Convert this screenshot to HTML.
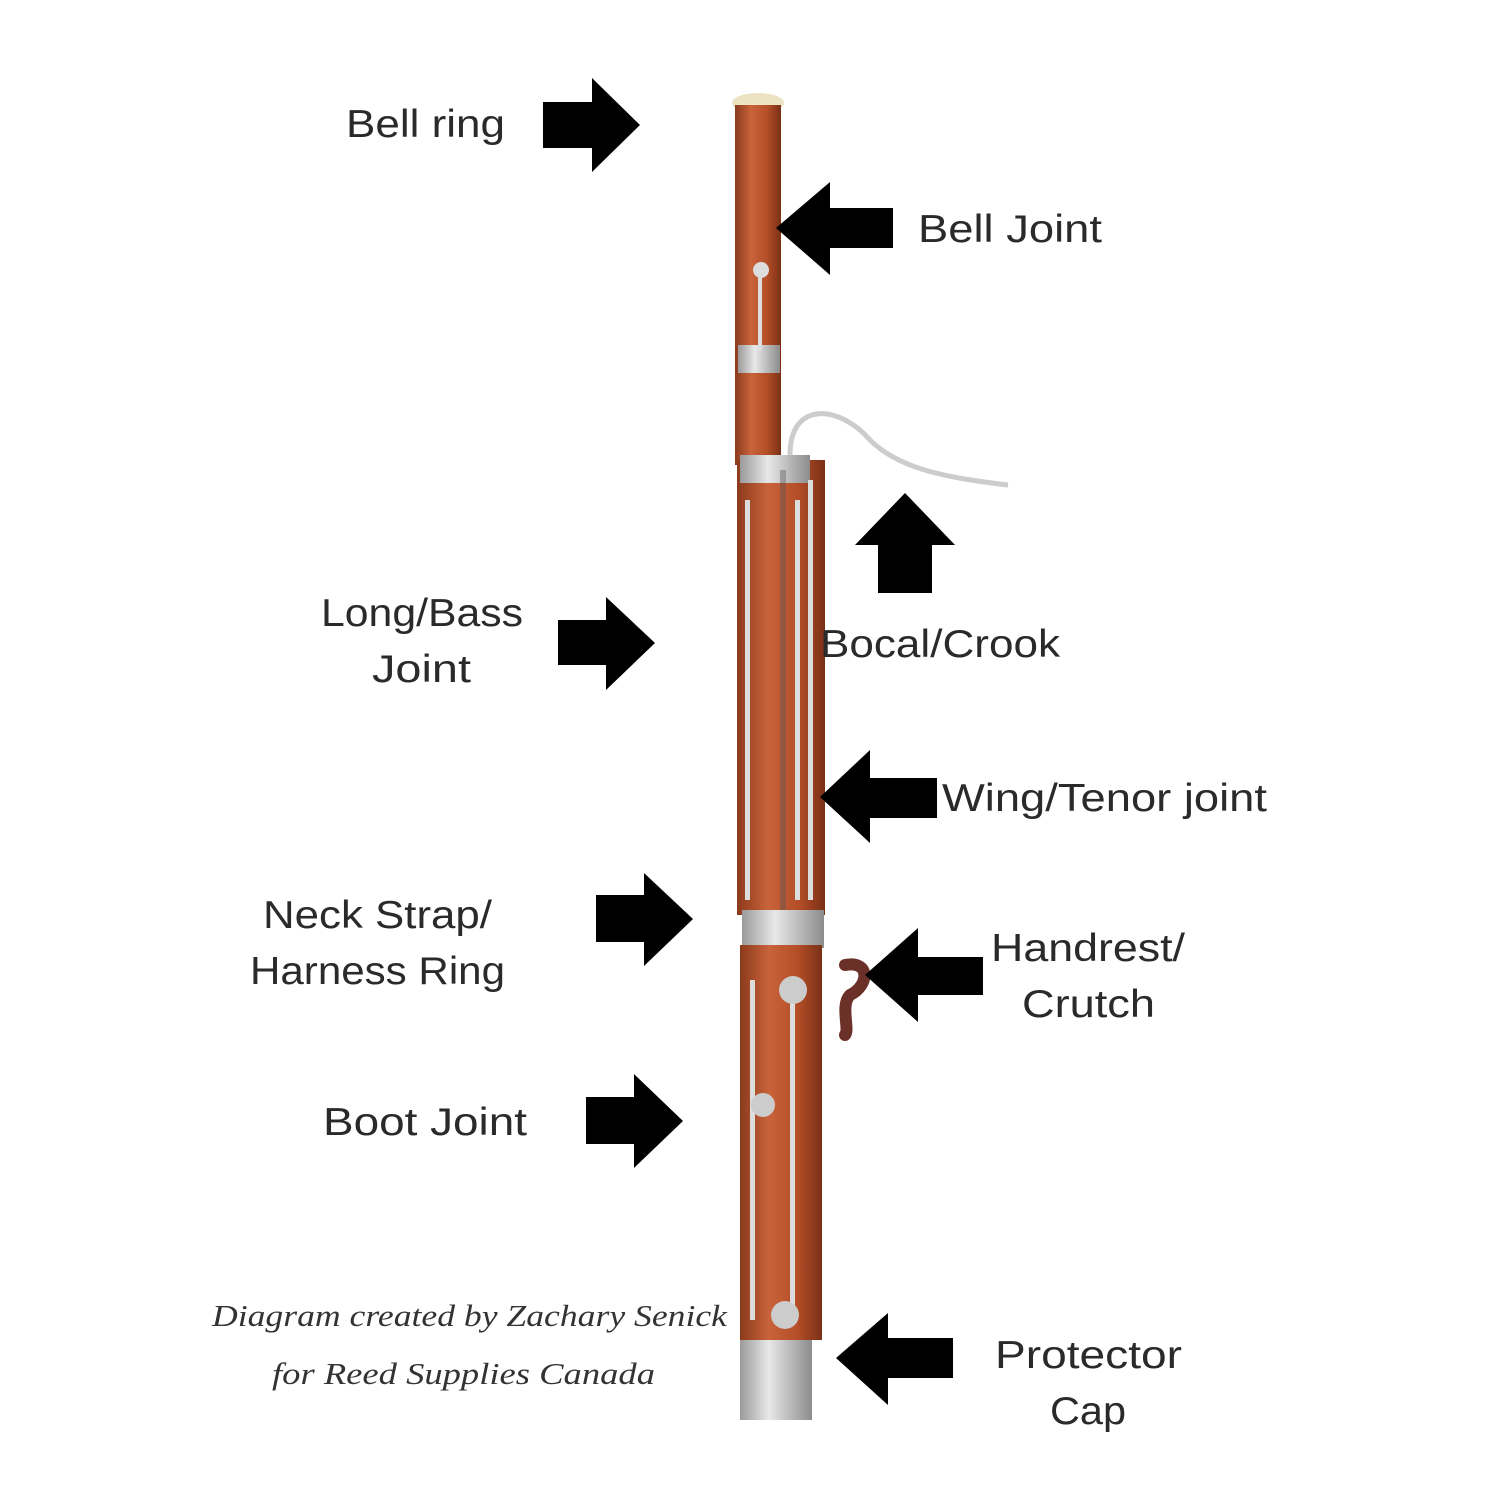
<!DOCTYPE html>
<html><head><meta charset="utf-8"><style>
html,body{margin:0;padding:0;background:#fff}
svg{display:block}
text{font-family:"Liberation Sans",sans-serif;font-size:39px;fill:#2a2a2a}
.s{font-family:"Liberation Serif",serif;font-style:italic;font-size:31px;fill:#333}
</style></head><body>
<svg width="1500" height="1500" viewBox="0 0 1500 1500">
<defs>
<linearGradient id="w" x1="0" x2="1">
<stop offset="0" stop-color="#8a3a1c"/><stop offset="0.35" stop-color="#c9633a"/><stop offset="0.7" stop-color="#b44e28"/><stop offset="1" stop-color="#7a3016"/>
</linearGradient>
<linearGradient id="m" x1="0" x2="1">
<stop offset="0" stop-color="#9a9a9a"/><stop offset="0.4" stop-color="#e8e8e8"/><stop offset="1" stop-color="#8c8c8c"/>
</linearGradient>
</defs>
<ellipse cx="758" cy="103" rx="26" ry="10" fill="#ece3c2"/>
<rect x="735" y="105" width="46" height="360" fill="url(#w)"/>
<rect x="738" y="345" width="42" height="28" fill="url(#m)"/>
<rect x="758" y="270" width="4" height="80" fill="#ddd"/>
<circle cx="761" cy="270" r="8" fill="#ddd"/>
<path d="M790 455 C790 400 840 405 870 440 C900 470 950 478 1008 485" stroke="#ccc" stroke-width="5" fill="none"/>
<rect x="737" y="460" width="88" height="455" fill="url(#w)"/>
<rect x="740" y="455" width="70" height="28" fill="url(#m)"/>
<rect x="780" y="470" width="6" height="440" fill="#555" opacity="0.4"/>
<rect x="745" y="500" width="5" height="400" fill="#ddd"/>
<rect x="795" y="500" width="5" height="400" fill="#ddd"/>
<rect x="808" y="480" width="5" height="420" fill="#ddd"/>
<rect x="742" y="910" width="82" height="38" fill="url(#m)"/>
<rect x="740" y="945" width="82" height="395" fill="url(#w)"/>
<rect x="750" y="980" width="5" height="340" fill="#ddd"/>
<rect x="790" y="980" width="5" height="340" fill="#ddd"/>
<circle cx="793" cy="990" r="14" fill="#ccc"/>
<circle cx="763" cy="1105" r="12" fill="#ccc"/>
<circle cx="785" cy="1315" r="14" fill="#ccc"/>
<path d="M845 965 C870 960 870 985 850 995 C840 1005 850 1030 845 1035" stroke="#6b3028" stroke-width="12" fill="none" stroke-linecap="round"/>
<rect x="740" y="1340" width="72" height="80" fill="url(#m)"/>
<g fill="#000">
<polygon points="543,102 592,102 592,78 640,125 592,172 592,148 543,148"/>
<polygon points="893,208 830,208 830,182 776,228 830,275 830,248 893,248"/>
<polygon points="558,620 606,620 606,597 655,643 606,690 606,665 558,665"/>
<polygon points="878,593 878,545 855,545 905,493 955,545 932,545 932,593"/>
<polygon points="937,778 870,778 870,750 820,797 870,843 870,818 937,818"/>
<polygon points="596,895 644,895 644,873 693,919 644,966 644,942 596,942"/>
<polygon points="983,957 918,957 918,928 865,975 918,1022 918,995 983,995"/>
<polygon points="586,1097 634,1097 634,1074 683,1121 634,1168 634,1144 586,1144"/>
<polygon points="953,1338 888,1338 888,1313 836,1358 888,1405 888,1378 953,1378"/>
</g>
<g>
<text x="346" y="137" textLength="159" lengthAdjust="spacingAndGlyphs">Bell ring</text>
<text x="918" y="242" textLength="184" lengthAdjust="spacingAndGlyphs">Bell Joint</text>
<text x="321" y="626" textLength="202" lengthAdjust="spacingAndGlyphs">Long/Bass</text>
<text x="372" y="682" textLength="99" lengthAdjust="spacingAndGlyphs">Joint</text>
<text x="820" y="657" textLength="240" lengthAdjust="spacingAndGlyphs">Bocal/Crook</text>
<text x="942" y="811" textLength="325" lengthAdjust="spacingAndGlyphs">Wing/Tenor joint</text>
<text x="263" y="928" textLength="229" lengthAdjust="spacingAndGlyphs">Neck Strap/</text>
<text x="250" y="984" textLength="255" lengthAdjust="spacingAndGlyphs">Harness Ring</text>
<text x="991" y="961" textLength="194" lengthAdjust="spacingAndGlyphs">Handrest/</text>
<text x="1022" y="1017" textLength="133" lengthAdjust="spacingAndGlyphs">Crutch</text>
<text x="323" y="1135" textLength="204" lengthAdjust="spacingAndGlyphs">Boot Joint</text>
<text x="995" y="1368" textLength="187" lengthAdjust="spacingAndGlyphs">Protector</text>
<text x="1050" y="1424" textLength="76" lengthAdjust="spacingAndGlyphs">Cap</text>
<text class="s" x="212" y="1326" textLength="515" lengthAdjust="spacingAndGlyphs">Diagram created by Zachary Senick</text>
<text class="s" x="272" y="1384" textLength="383" lengthAdjust="spacingAndGlyphs">for Reed Supplies Canada</text>
</g>
</svg>
</body></html>
